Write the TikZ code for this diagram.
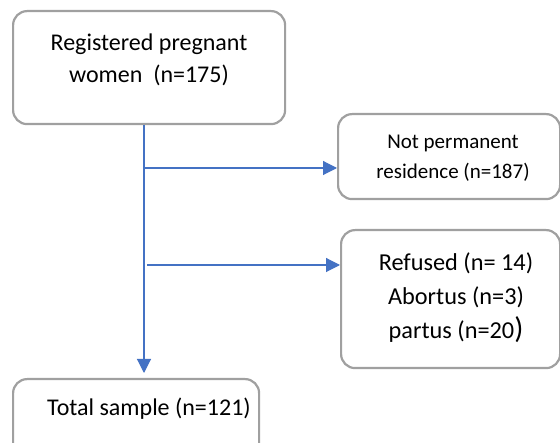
\documentclass[tikz,border=0pt]{standalone}
\usepackage{fontspec}
\setmainfont{Carlito}
\usetikzlibrary{arrows.meta}
\definecolor{lineblue}{HTML}{4472C4}
\definecolor{boxgray}{HTML}{A0A0A0}
\tikzset{
  box/.style={draw=boxgray, line width=2.2pt, rounded corners=14pt, fill=white},
  flow/.style={draw=lineblue, line width=1.1pt, -{Triangle[length=14pt,width=14pt]}},
  txt/.style={align=center, inner sep=0pt},
}
\begin{document}
\begin{tikzpicture}[x=1pt,y=-1pt]
\useasboundingbox[fill=white] (0,0) rectangle (560,443);
\clip (0,0) rectangle (560,443);
\node[box, minimum width=272pt, minimum height=113pt, anchor=north west] (reg) at (12,10) {};
\node[txt, font=\fontsize{24}{32}\selectfont] (regtext) at (149,60) {Registered pregnant\\women~ (n=175)};
\node[box, minimum width=222pt, minimum height=85pt, anchor=north west] (np) at (337,113) {};
\node[txt, font=\fontsize{21}{30}\selectfont] (nptext) at (453,158) {Not permanent\\residence (n=187)};
\node[box, minimum width=219pt, minimum height=138pt, anchor=north west] (ref) at (340,229) {};
\node[txt, font=\fontsize{24.3}{34}\selectfont] (reftext) at (456,298) {Refused (n= 14)\\Abortus (n=3)\\partus (n=20{\fontsize{30}{34}\selectfont)}};
\node[box, minimum width=246pt, minimum height=80pt, anchor=north west] (tot) at (12,378) {};
\node[txt, font=\fontsize{24}{28}\selectfont] (tottext) at (149,409) {Total sample (n=121)};
\coordinate (b1) at (144,168);
\coordinate (b2) at (147,265);
\coordinate (vend) at (144,373);
\draw[flow] (reg.south -| b1) -- (vend);
\draw[flow] (b1) -- (np.west |- b1);
\draw[flow] (b2) -- (ref.west |- b2);
\end{tikzpicture}
\end{document}
